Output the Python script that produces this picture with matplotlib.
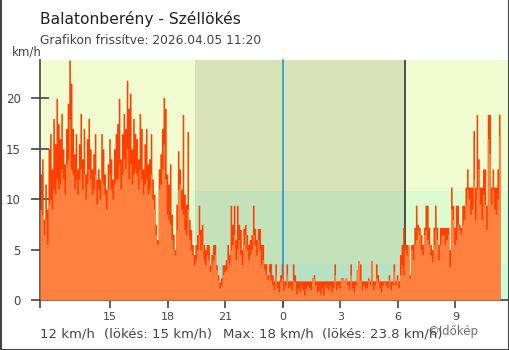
import matplotlib.pyplot as plt
import matplotlib.dates as mdates
import numpy as np
import pandas as pd

# 5-minute readings, 2026-04-04 11:20 -> 2026-04-05 11:20 (km/h)
wind = [
    9.0, 8.5, 6.5, 8.0, 5.5, 9.5, 10.0, 9.0, 11.0, 10.5, 12.0, 11.0,
    11.5, 13.0, 12.0, 10.5, 13.5, 14.0, 18.0, 13.0, 12.5, 11.0, 12.0, 10.5,
    12.0, 13.0, 11.0, 12.5, 10.0, 11.5, 13.0, 12.0, 10.5, 11.0, 12.5, 9.5,
    11.0, 10.0, 12.0, 11.5, 10.5, 9.0, 11.0, 12.5, 11.0, 10.0, 11.5, 12.0,
    12.0, 13.5, 11.0, 12.5, 14.0, 13.0, 15.0, 12.0, 13.5, 11.5, 12.5, 13.0,
    12.5, 11.0, 13.0, 12.0, 10.5, 11.5, 12.0, 10.5, 11.0, 12.5, 10.0, 9.0,
    6.5, 5.5, 11.0, 11.5, 13.0, 15.5, 12.0, 8.5, 8.0, 7.5, 6.0, 5.0,
    4.5, 7.0, 11.0, 11.5, 9.0, 8.5, 7.0, 6.5, 9.0, 6.0, 5.0, 4.5,
    3.5, 4.0, 5.0, 6.5, 5.0, 5.5, 4.0, 3.5, 4.5, 4.0, 2.8, 3.5,
    4.0, 4.5, 3.0, 2.0, 1.2, 1.5, 2.5, 2.8, 3.0, 4.0, 3.5, 5.0,
    5.5, 6.5, 4.0, 5.0, 6.0, 4.5, 3.5, 5.5, 6.5, 5.0, 4.0, 4.5,
    5.0, 6.5, 5.5, 4.5, 6.0, 5.0, 3.5, 4.0, 3.0, 2.5, 2.0, 2.8,
    2.0, 1.5, 1.0, 2.5, 1.2, 0.8, 1.8, 2.2, 1.0, 1.5, 2.5, 1.2,
    1.5, 1.0, 2.0, 1.8, 0.6, 1.2, 0.8, 1.5, 1.0, 0.5, 1.2, 1.5,
    1.2, 1.0, 2.2, 2.2, 1.5, 0.8, 1.0, 0.6, 1.2, 0.5, 1.5, 1.2,
    1.0, 1.5, 0.8, 1.2, 2.5, 1.0, 1.5, 1.2, 2.2, 2.2, 1.8, 2.2,
    1.5, 1.0, 2.5, 1.2, 0.8, 1.5, 3.0, 3.9, 2.0, 1.0, 1.5, 1.2,
    1.2, 2.0, 1.5, 3.9, 1.0, 1.5, 2.2, 1.8, 1.2, 0.8, 1.5, 1.8,
    1.5, 1.2, 2.0, 1.0, 1.5, 2.8, 1.5, 2.0, 1.2, 2.5, 3.5, 2.5,
    5.0, 4.5, 5.5, 2.2, 5.0, 4.0, 5.5, 6.0, 7.0, 6.5, 5.0, 4.5,
    6.5, 7.0, 6.0, 5.5, 4.5, 3.8, 5.5, 7.0, 6.0, 4.0, 5.5, 6.5,
    6.5, 5.5, 6.0, 6.5, 3.3, 9.0, 8.0, 5.5, 6.0, 7.5, 7.0, 6.5,
    7.5, 8.0, 9.5, 11.0, 10.0, 8.5, 9.0, 12.0, 8.0, 11.0, 13.0, 9.5,
    8.0, 10.5, 9.5, 7.0, 16.0, 14.5, 9.5, 11.0, 9.0, 8.5, 10.0, 16.3,
    12.0,
]
gust = [
    12.5, 14.0, 8.0, 11.5, 9.0, 15.0, 16.5, 13.0, 18.0, 15.5, 20.0, 17.5,
    16.0, 18.5, 15.0, 13.5, 17.0, 19.5, 23.8, 21.5, 17.0, 14.5, 16.5, 13.0,
    15.5, 18.5, 14.0, 17.0, 12.5, 16.0, 18.0, 15.0, 13.0, 14.5, 16.5, 12.0,
    13.0, 12.0, 16.5, 15.0, 12.5, 11.0, 13.5, 16.0, 14.0, 12.0, 15.0, 16.5,
    17.5, 20.0, 14.0, 16.5, 18.5, 17.0, 21.8, 19.0, 20.5, 15.0, 18.0, 16.5,
    16.0, 14.0, 18.5, 17.0, 13.0, 15.5, 17.0, 13.5, 14.0, 16.5, 12.0, 10.5,
    7.5, 6.0, 13.0, 14.5, 17.0, 20.1, 19.0, 12.5, 11.5, 13.5, 8.5, 6.5,
    5.0, 9.5, 14.8, 13.0, 11.0, 18.4, 10.5, 9.5, 16.7, 8.0, 7.0, 5.5,
    4.5, 5.5, 6.5, 9.4, 7.0, 7.5, 5.5, 5.0, 5.5, 5.5, 3.5, 4.5,
    5.5, 5.5, 3.5, 2.5, 1.8, 2.2, 3.5, 3.5, 4.0, 5.5, 4.5, 9.4,
    7.5, 9.4, 6.0, 9.4, 7.5, 7.0, 5.0, 7.1, 7.5, 6.5, 5.5, 6.0,
    6.5, 9.4, 7.1, 6.0, 7.1, 7.1, 5.5, 5.5, 3.6, 3.6, 2.5, 3.6,
    3.6, 2.5, 1.9, 3.6, 1.9, 1.9, 2.5, 3.6, 1.9, 1.9, 3.6, 1.9,
    1.9, 1.9, 3.6, 2.5, 1.9, 1.9, 1.9, 1.9, 1.9, 1.9, 1.9, 1.9,
    1.9, 1.9, 2.2, 2.5, 1.9, 1.9, 1.9, 1.9, 1.9, 1.9, 1.9, 1.9,
    1.9, 1.9, 1.9, 1.9, 3.6, 1.9, 1.9, 1.9, 2.2, 2.2, 1.9, 2.2,
    1.9, 1.9, 3.6, 1.9, 1.9, 1.9, 3.0, 3.9, 3.6, 1.9, 1.9, 1.9,
    1.9, 2.2, 1.9, 3.9, 1.9, 1.9, 3.6, 2.5, 1.9, 1.9, 1.9, 1.9,
    1.9, 1.9, 2.5, 1.9, 1.9, 3.6, 1.9, 2.5, 1.9, 4.5, 5.5, 7.2,
    5.5, 5.5, 5.5, 2.5, 5.5, 5.5, 7.2, 9.4, 7.5, 7.2, 6.5, 5.5,
    7.2, 9.4, 9.4, 7.2, 5.5, 5.0, 7.2, 9.4, 7.2, 5.5, 7.2, 7.2,
    7.2, 7.2, 7.2, 7.2, 5.0, 11.2, 9.4, 7.2, 9.4, 9.4, 7.5, 7.2,
    9.4, 9.4, 11.2, 13.0, 11.2, 11.2, 11.2, 16.8, 11.2, 18.4, 14.0, 11.2,
    11.2, 13.0, 13.0, 9.4, 18.4, 18.4, 11.2, 13.0, 11.2, 11.2, 13.0, 18.4,
    15.0,
]

# wind-strength bands (km/h) and their colours
band_edges = [0, 3.6, 10.8, 23.8]
band_colors = ['#cbfcda', '#dbfccf', '#f0fccf']

times = pd.date_range('2026-04-04 11:20', periods=len(wind), freq='5min')
sunset = pd.Timestamp('2026-04-04 19:25')
sunrise = pd.Timestamp('2026-04-05 06:21')
midnight = pd.Timestamp('2026-04-05 00:00')

fig = plt.figure(figsize=(5.1, 3.5), dpi=100)
ax = fig.add_axes([40 / 510, 50 / 350, 469 / 510, 240 / 350])

for lo, hi, c in zip(band_edges[:-1], band_edges[1:], band_colors):
    ax.axhspan(lo, hi, color=c, lw=0, zorder=0)
ax.axvspan(sunset, sunrise, color='black', alpha=0.1, lw=0, zorder=1)
ax.axvline(sunrise, color='#333333', lw=1.2, zorder=1.5)
ax.axvline(midnight, color='#1a9be0', lw=1.2, ymin=-0.025, clip_on=False, zorder=1.5)

ax.fill_between(times, 0, gust, step='post', color='#ff4000', lw=0, zorder=2)
ax.fill_between(times, 0, wind, step='post', color='#ff803f', lw=0, zorder=3)

ax.set_ylim(0, max(gust))
ax.set_xlim(times[0], pd.Timestamp('2026-04-05 11:48'))

xt = [times[0]] + list(pd.date_range('2026-04-04 15:00', periods=7, freq='3h'))
ax.set_xticks(xt)
ax.set_xticklabels([''] + [str(t.hour) for t in xt[1:]])
ax.set_yticks([0, 5, 10, 15, 20])

ax.tick_params(axis='x', direction='out', length=6, width=1.2, color='#444444',
               labelsize=8, labelcolor='#444444', pad=2.5)
ax.tick_params(axis='y', direction='inout', length=13, width=1.2, color='#444444',
               labelsize=8.5, labelcolor='#444444', pad=7.5)
ax.get_xticklines()[8].set_color('#1a9be0')

for s in ['top', 'right']:
    ax.spines[s].set_visible(False)
for s in ['left', 'bottom']:
    ax.spines[s].set_color('#444444')
    ax.spines[s].set_linewidth(1.2)

fig.text(40 / 510, 1 - 19 / 350, 'Balatonberény - Széllökés', fontsize=11.2,
         color='#222222', va='center')
fig.text(40 / 510, 1 - 41 / 350, 'Grafikon frissítve: 2026.04.05 11:20', fontsize=8.8,
         color='#444444', va='center')
fig.text(12 / 510, 1 - 52 / 350, 'km/h', fontsize=8.5, color='#444444', va='center')

def fmt(v):
    return f'{v:g}'

y_info = 1 - 334 / 350
fig.text(40 / 510, y_info, f'{fmt(wind[-1])} km/h', fontsize=9.5, color='#444444', va='center')
fig.text(104 / 510, y_info, f'(lökés: {fmt(gust[-1])} km/h)', fontsize=9.5, color='#444444', va='center')
fig.text(223 / 510, y_info, f'Max: {fmt(max(wind))} km/h', fontsize=9.5, color='#444444', va='center')
fig.text(322 / 510, y_info, f'(lökés: {fmt(max(gust))} km/h)', fontsize=9.5, color='#444444', va='center')
fig.text(427 / 510, 1 - 331 / 350, '©Időkép', fontsize=8.5, color='#555555', alpha=0.85, va='center')

# frame around the image
for xs, ys in [([0.5, 0.5], [0, 350]), ([509.5, 509.5], [0, 350]), ([0, 510], [349.5, 349.5])]:
    fig.add_artist(plt.Line2D([x / 510 for x in xs], [1 - y / 350 for y in ys],
                              color='#444444', lw=1.5))

fig.savefig('out.png', dpi=100)
